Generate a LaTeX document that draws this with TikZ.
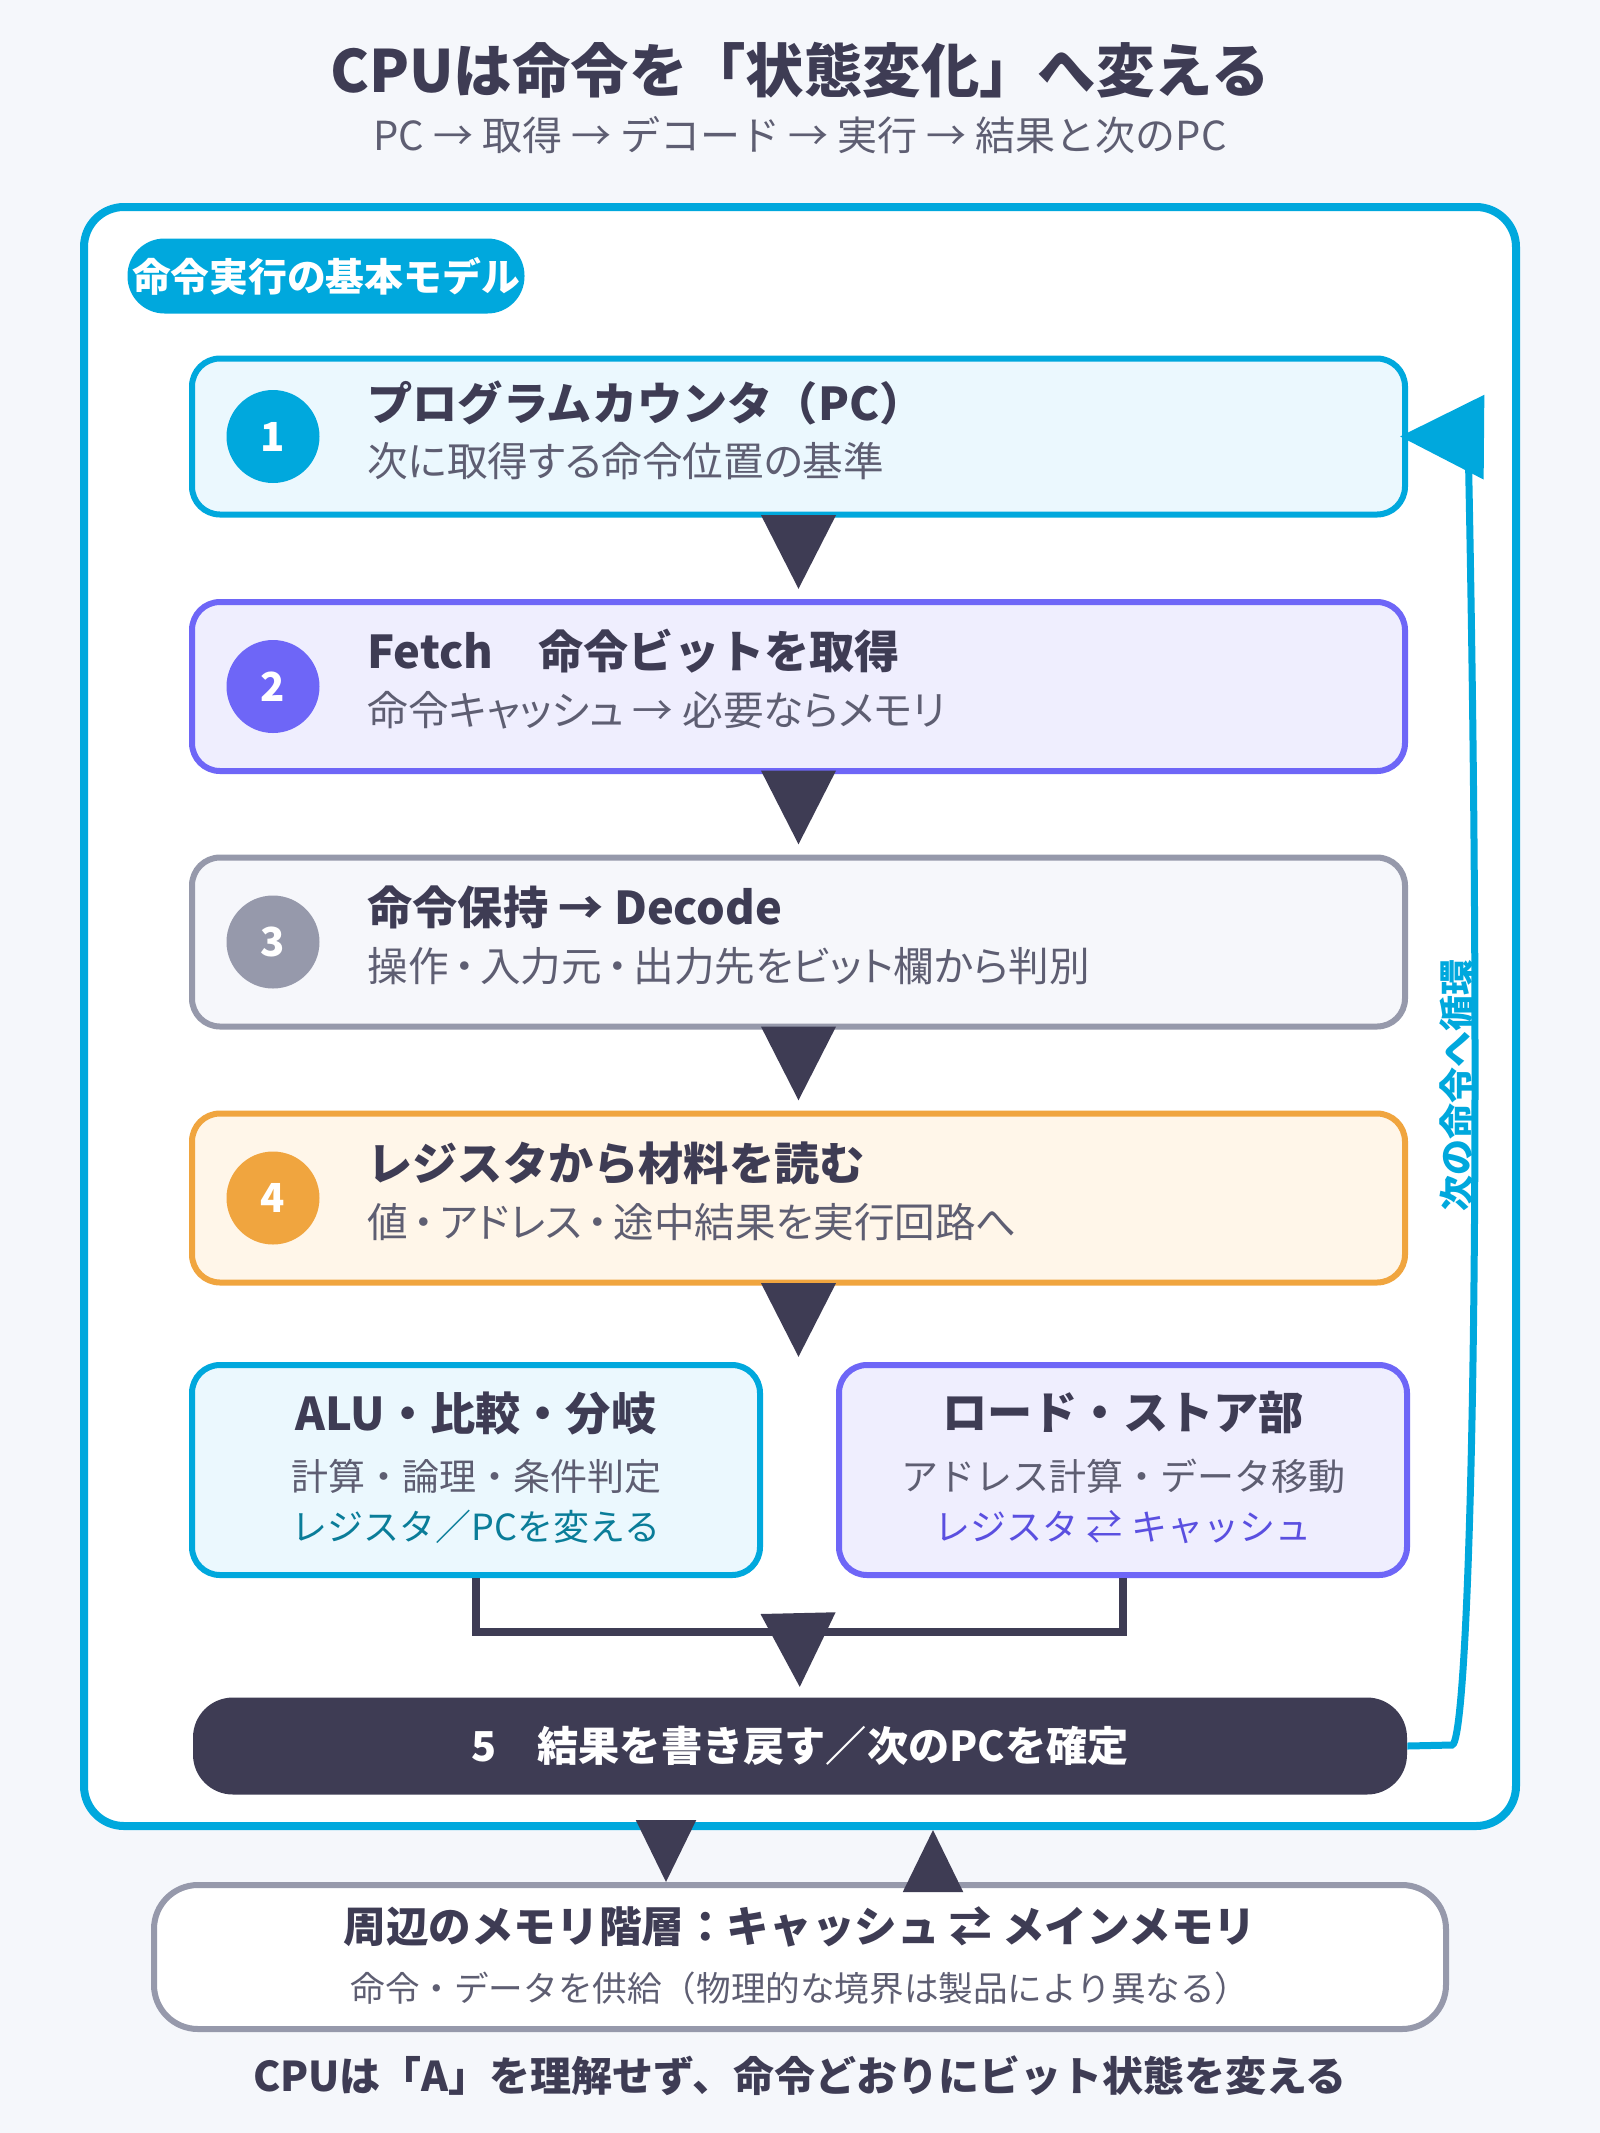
\documentclass[tikz,border=0pt]{standalone}
\usepackage{fontspec}
\setmainfont{Noto Sans CJK JP}
\usetikzlibrary{arrows.meta}
\definecolor{bg}{HTML}{F5F7FB}
\definecolor{dark}{HTML}{3E3C54}
\definecolor{ink}{HTML}{5E5E72}
\definecolor{cpublue}{HTML}{00A8DD}
\definecolor{bluefill}{HTML}{EBF8FE}
\definecolor{violet}{HTML}{6E66F7}
\definecolor{violetfill}{HTML}{EFEEFE}
\definecolor{violettext}{HTML}{5A4FE0}
\definecolor{slate}{HTML}{9699AB}
\definecolor{slatefill}{HTML}{F6F7FB}
\definecolor{amber}{HTML}{F0A53F}
\definecolor{amberfill}{HTML}{FFF6E9}
\definecolor{teal}{HTML}{0A7D99}
\newcommand\middot{\kern0.14em・\kern0.14em}
\begin{document}
\begin{tikzpicture}[x=0.5pt,y=-0.5pt,
  stage/.style={draw=#1,line width=3pt,rounded corners=14pt,minimum width=606.5pt,minimum height=84.5pt,inner sep=0pt},
  unit/.style={draw=#1,line width=3pt,rounded corners=14pt,minimum width=284pt,minimum height=105pt,inner sep=0pt},
  num/.style={circle,fill=#1,minimum size=46.5pt,inner sep=0pt,text=white,font=\fontsize{20}{24}\selectfont\bfseries},
  head/.style={inner sep=0pt,text=dark,font=\fontsize{22.6}{26}\selectfont\bfseries},
  note/.style={inner sep=0pt,text=ink,font=\fontsize{20.3}{24}\selectfont\addfontfeatures{RawFeature=+palt}},
  small/.style={inner sep=0pt,text=#1,font=\fontsize{18.5}{22}\selectfont},
  flow/.style={draw=dark,line width=4pt,-{Triangle[length=37pt,width=36.5pt]},shorten >=5pt},
  pipe/.style={draw=dark,line width=1pt,-{Triangle[length=31pt,width=30pt]}}]
  \fill[bg] (0,0) rectangle (1600,2133);
  % title
  \node [text=dark,font=\fontsize{29.2}{34}\selectfont\bfseries] (title) at (800,70) {CPUは命令を「状態変化」へ変える};
  \node [text=ink,font=\fontsize{20}{24}\selectfont] (subtitle) at (800,135) {PC → 取得 → デコード → 実行 → 結果と次のPC};
  % model frame
  \node [draw=cpublue,line width=4pt,fill=white,rounded corners=20pt,minimum width=716pt,minimum height=809.5pt] (model) at (800,1016.5) {};
  \node [fill=cpublue,rounded corners=18.5pt,minimum width=198.5pt,minimum height=37.5pt,inner sep=0pt,text=white,font=\fontsize{19.4}{23}\selectfont\bfseries] (tag) at (326,276) {命令実行の基本モデル};
  % stages
  \node [stage=cpublue,fill=bluefill,minimum height=78pt] (pc) at (798.5,436.5) {};
  \node [stage=violet,fill=violetfill] (fetch) at (798.5,686.5) {};
  \node [stage=slate,fill=slatefill] (decode) at (798.5,942) {};
  \node [stage=amber,fill=amberfill] (regs) at (798.5,1198) {};
  \begin{scope}[every node/.style={anchor=west}]
    \path (pc.west) ++(178,-34) node [head] (pchead) {プログラムカウンタ（PC）};
    \path (pc.west) ++(178,24) node [note] (pcnote) {次に取得する命令位置の基準};
    \path (fetch.west) ++(178,-35) node [head] (fetchhead) {Fetch　命令ビットを取得};
    \path (fetch.west) ++(178,24) node [note] (fetchnote) {命令キャッシュ → 必要ならメモリ};
    \path (decode.west) ++(178,-35) node [head] (decodehead) {命令保持 → Decode};
    \path (decode.west) ++(178,24) node [note] (decodenote) {操作\middot 入力元\middot 出力先をビット欄から判別};
    \path (regs.west) ++(178,-35) node [head] (regshead) {レジスタから材料を読む};
    \path (regs.west) ++(178,24) node [note] (regsnote) {値\middot アドレス\middot 途中結果を実行回路へ};
  \end{scope}
  \path (pc.west) ++(84,0) node [num=cpublue] (n1) {1};
  \path (fetch.west) ++(84,0) node [num=violet] (n2) {2};
  \path (decode.west) ++(84,0) node [num=slate] (n3) {3};
  \path (regs.west) ++(84,0) node [num=amber] (n4) {4};
  % execution units
  \node [unit=cpublue,fill=bluefill] (alu) at (476,1470) {};
  \node [unit=violet,fill=violetfill] (ls) at (1123,1470) {};
  \path (alu.center) ++(0,-57) node [head] (aluhead) {ALU・比較・分岐};
  \path (alu.center) ++(0,6) node [small=ink] (alunote) {計算・論理・条件判定};
  \path (alu.center) ++(0,57) node [small=teal,font=\fontsize{18}{22}\selectfont] (aluout) {レジスタ／PCを変える};
  \path (ls.center) ++(0,-57) node [head] (lshead) {ロード・ストア部};
  \path (ls.center) ++(0,6) node [small=ink] (lsnote) {アドレス計算・データ移動};
  \path (ls.center) ++(0,57) node [small=violettext,font=\fontsize{18}{22}\selectfont] (lsout) {レジスタ ⇄ キャッシュ};
  % write back
  \node [fill=dark,rounded corners=20pt,minimum width=607pt,minimum height=48.5pt,inner sep=0pt,text=white,font=\fontsize{20.6}{25}\selectfont\bfseries] (wb) at (800,1746) {5　結果を書き戻す／次のPCを確定};
  % connectors
  \coordinate (split) at (798.5,1367);
  \coordinate (join) at (798.5,1632);
  \draw [flow] (pc) -- (fetch);
  \draw [flow] (fetch) -- (decode);
  \draw [flow] (decode) -- (regs);
  \draw [flow] (regs) -- (split);
  \draw [draw=dark,line width=4pt] (alu.south) |- (join) -| (ls.south);
  \draw [flow] (join) -- (wb.north);
  \draw [draw=cpublue,line width=3.5pt,-{Triangle[length=42pt,width=41.5pt]},shorten >=-4pt] (wb.east) -- (1452,1745) .. controls (1470,1745) and (1484,1200) .. (1468,437) -- (pc.east);
  \node [rotate=90,text=cpublue,font=\fontsize{18}{22}\selectfont\bfseries] (loopnote) at (1457,1085) {次の命令へ循環};
  % memory
  \node [draw=slate,line width=3pt,fill=white,rounded corners=22pt,minimum width=646pt,minimum height=72pt,inner sep=0pt] (mem) at (800,1957) {};
  \path (mem.center) ++(0,-30) node [head,font=\fontsize{21.3}{25}\selectfont\bfseries] (memhead) {周辺のメモリ階層：キャッシュ ⇄ メインメモリ};
  \path (mem.center) ++(0,31) node [small=ink,font=\fontsize{17.3}{21}\selectfont] (memnote) {命令・データを供給（物理的な境界は製品により異なる）};
  \draw [pipe] (model.south -| 666,0) -- (mem.north -| 666,0);
  \draw [pipe] (mem.north -| 933,0) -- (model.south -| 933,0);
  \node [text=dark,font=\fontsize{20.5}{24}\selectfont\bfseries] (footer) at (800,2076) {CPUは「A」を理解せず、命令どおりにビット状態を変える};
\end{tikzpicture}
\end{document}
